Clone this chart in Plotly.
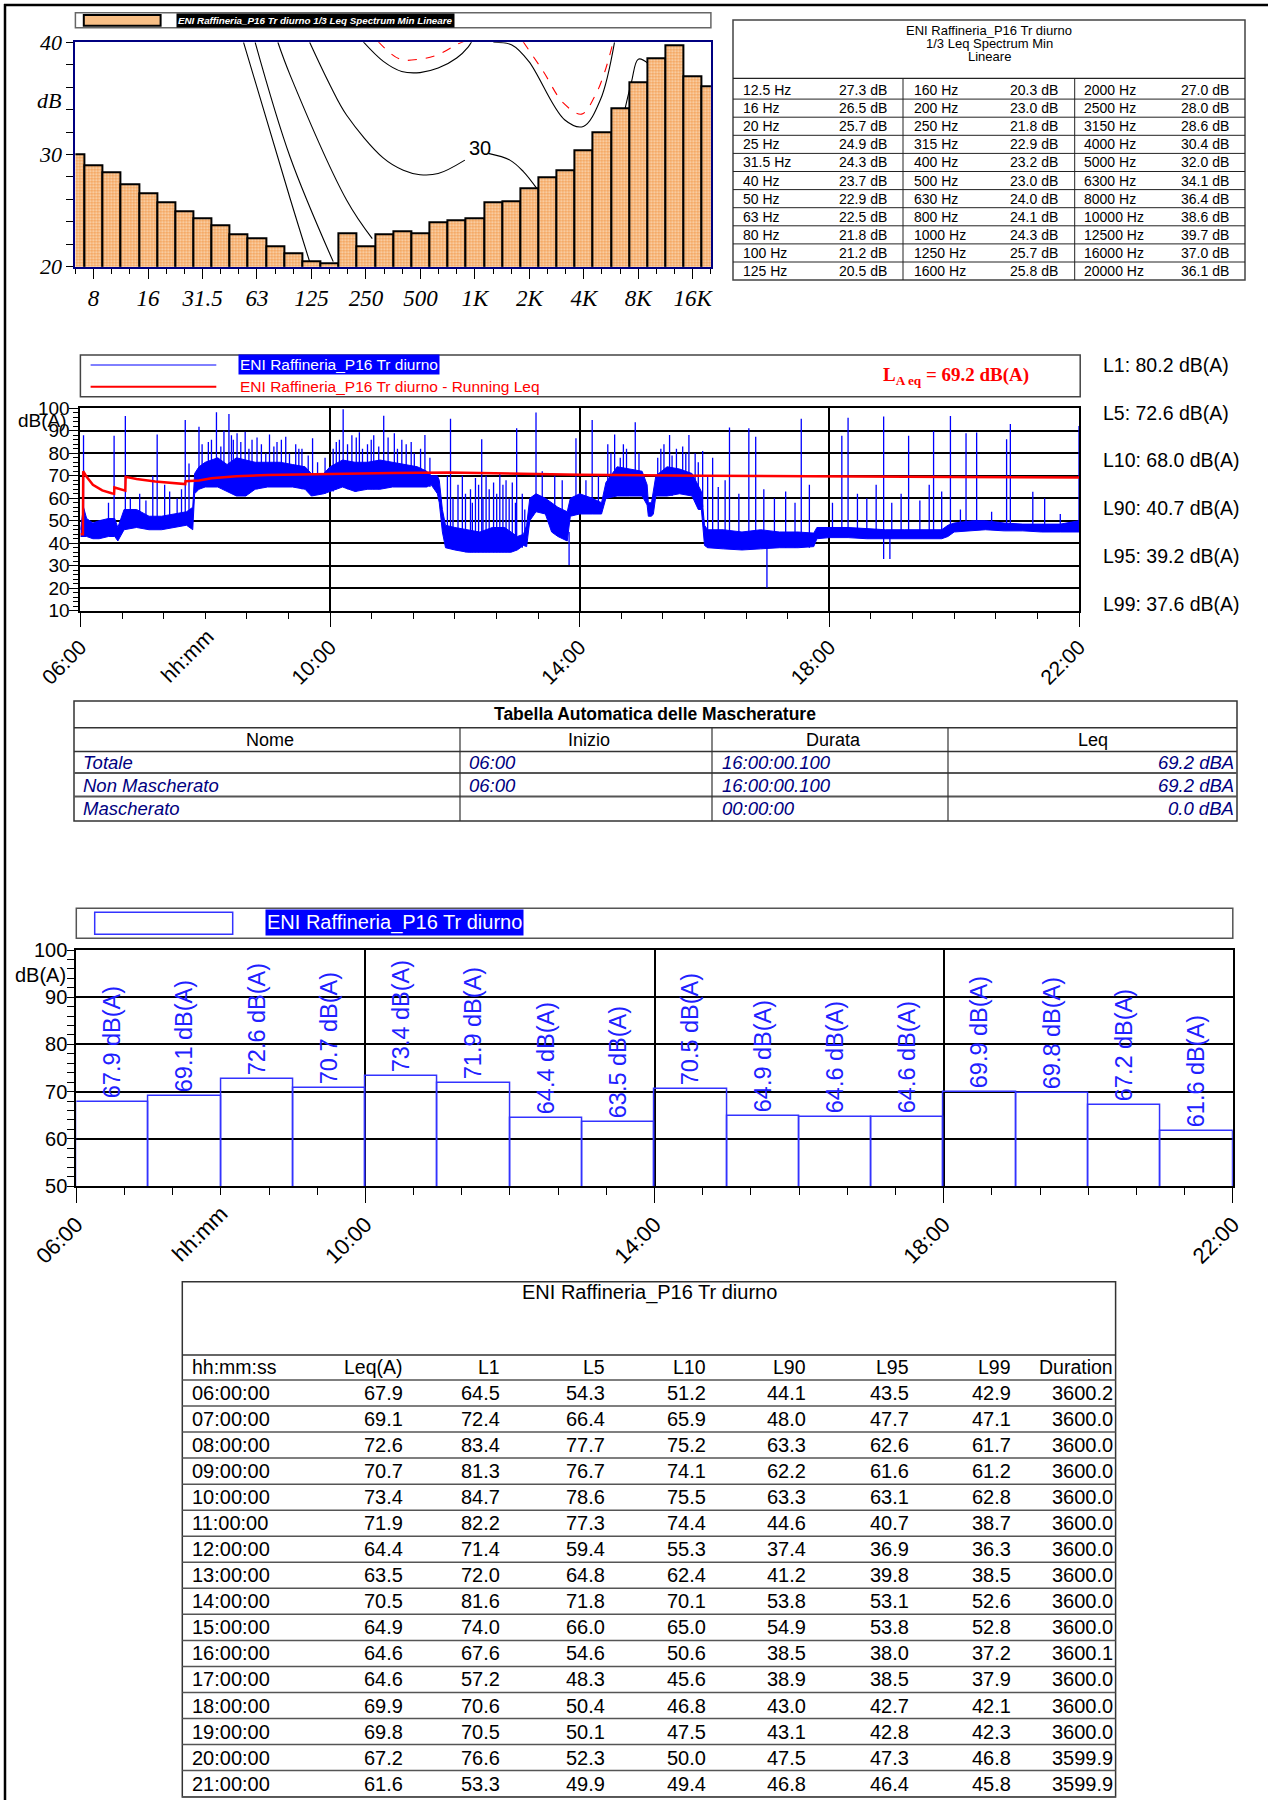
import plotly.graph_objects as go

W, H = 1273, 1800
def PX(x): return x / W
def PY(y): return 1 - y / H

SANS = "Liberation Sans, Arial, sans-serif"
SERIF = "Liberation Serif, Times New Roman, serif"
BLUE = "#0000FF"
RED = "#FF0000"
NAVY = "#000080"

# ---------------- DATA ----------------
# 1/3 octave Leq spectrum (min), linear
SPEC_FREQ = ["6.3", "8", "10", "12.5", "16", "20", "25", "31.5", "40", "50", "63", "80", "100", "125",
             "160", "200", "250", "315", "400", "500", "630", "800", "1000", "1250", "1600", "2000",
             "2500", "3150", "4000", "5000", "6300", "8000", "10000", "12500", "16000", "20000"]
SPEC_DB = [30.0, 29.0, 28.4, 27.3, 26.5, 25.7, 24.9, 24.3, 23.7, 22.9, 22.5, 21.8, 21.2, 20.5,
           20.3, 23.0, 21.8, 22.9, 23.2, 23.0, 24.0, 24.1, 24.3, 25.7, 25.8, 27.0,
           28.0, 28.6, 30.4, 32.0, 34.1, 36.4, 38.6, 39.7, 37.0, 36.1]
SPEC_TICK_FREQ = ["8", "16", "31.5", "63", "125", "250", "500", "1000", "2000", "4000", "8000", "16000"]
SPEC_TICK_TEXT = ["8", "16", "31.5", "63", "125", "250", "500", "1K", "2K", "4K", "8K", "16K"]

# equal-loudness style reference curves (band index, dB)
CURVE_A_X = [9.26, 11.82, 12.90]
CURVE_A_Y = [40.0, 26.1, 20.45]
CURVE_B_X = [9.90, 11.82, 14.20]
CURVE_B_Y = [40.0, 29.8, 20.45]
CURVE_C_X = [11.15, 11.82, 14.95, 16.35]
CURVE_C_Y = [40.0, 37.1, 25.9, 22.5]
CURVE_30L_X = [12.90, 14.02, 14.94, 16.95, 18.06, 18.98, 19.98, 21.45]
CURVE_30L_Y = [40.0, 36.2, 33.5, 29.7, 28.6, 28.2, 28.3, 29.5]
CURVE_30R_X = [22.74, 23.93, 24.66, 25.40]
CURVE_30R_Y = [30.1, 29.5, 28.5, 27.0]
CURVE_40L_X = [15.85, 16.96, 17.97, 18.98, 19.98, 21.0, 21.64, 21.82]
CURVE_40L_Y = [40.05, 38.3, 37.4, 37.3, 37.7, 38.6, 39.6, 40.05]
CURVE_40R_X = [23.02, 24.04, 24.97, 26.94, 27.97, 28.92, 29.69]
CURVE_40R_Y = [40.0, 39.76, 38.3, 33.1, 32.5, 34.9, 40.0]
CURVE_HI_X = [30.26, 30.63, 31.0, 31.55, 32.19]
CURVE_HI_Y = [34.0, 36.5, 38.5, 38.1, 36.6]
RED_L_X = [16.68, 17.87, 18.98, 19.98, 21.0, 21.36]
RED_L_Y = [40.05, 38.5, 38.5, 38.9, 39.8, 40.05]
RED_R_X = [24.66, 25.77, 26.87, 27.88, 28.61, 29.16, 29.62]
RED_R_Y = [40.05, 37.4, 34.6, 33.6, 35.2, 37.4, 40.05]

# time history (hours of day) - envelope of the dense level trace
BAND_T = [6.00, 6.05, 6.10, 6.20, 6.30, 6.45, 6.55, 6.60, 6.70, 6.90, 7.10, 7.30, 7.50, 7.70, 7.80,
          7.83, 7.90, 8.00, 8.20, 8.35, 8.50, 8.65, 8.80, 9.00, 9.20, 9.40, 9.60, 9.70, 9.90,
          10.00, 10.20, 10.40, 10.60, 10.80, 11.00, 11.20, 11.40, 11.55, 11.62, 11.72, 11.75,
          11.80, 11.85, 12.00, 12.20, 12.40, 12.60, 12.80, 12.90, 13.00, 13.10, 13.15, 13.20,
          13.30, 13.45, 13.55, 13.65, 13.80, 13.85, 14.00, 14.20, 14.35, 14.42, 14.60, 14.80,
          15.00, 15.08, 15.10, 15.15, 15.18, 15.22, 15.40, 15.60, 15.80, 15.90, 15.95, 16.00,
          16.05, 16.30, 16.60, 16.90, 17.20, 17.50, 17.75, 17.80, 18.00, 18.30, 18.60, 18.90,
          19.20, 19.50, 19.80, 19.90, 20.00, 20.30, 20.50, 20.80, 21.10, 21.40, 21.70, 22.00]
BAND_LO = [43, 43, 43, 42, 42, 43, 43, 41, 46, 47, 46, 46, 47, 48, 46,
           62, 64, 65, 65, 63, 61, 61, 64, 65, 65, 65, 64, 61, 62,
           63, 65, 63, 64, 64, 65, 65, 65, 65, 66, 62, 58,
           45, 38, 37, 36, 36, 36, 36, 36, 37, 39, 38.5, 50,
           54, 53, 45, 43, 41, 52, 53, 53, 53, 60, 61, 61,
           61, 57, 52, 52, 53, 61, 61, 62, 61, 55, 55, 39,
           38, 37.5, 37, 37.5, 38, 38, 38.5, 42, 42.5, 42.5, 42, 42,
           42, 42, 42, 43, 45, 45.5, 46, 45.5, 45.5, 45, 45, 45]
BAND_HI = [46, 56, 51, 49, 50, 51, 51, 47, 55, 55, 52, 52, 53, 54, 56,
           71, 74, 76, 78, 75, 78, 77, 76, 76, 76, 75, 74, 71, 71,
           74, 77, 76, 76, 77, 76, 75, 74, 72, 70, 70, 68,
           55, 48, 47, 46, 45, 47, 47, 45, 43, 44, 48, 60,
           62, 60, 58, 56, 54, 60, 62, 60, 58, 67, 74, 73,
           72, 66, 58, 58, 64, 70, 74, 73, 71, 66, 63, 48,
           46, 46, 45, 46, 45, 45, 44.5, 47, 47, 47, 46.5, 46,
           46, 46, 46, 48, 49, 50, 50, 49, 48.5, 48.5, 48.5, 50]

# isolated events (time, level at foot, peak level)
SPIKE_T = [6.05, 6.54, 6.72, 7.16, 7.23, 7.43, 7.68, 7.74, 7.90, 8.05, 8.18, 8.38, 8.51, 8.64, 9.03,
           9.29, 9.72, 10.21, 10.47, 10.86, 11.03, 11.52, 11.93, 12.43, 12.99, 13.30, 13.94, 14.20,
           14.56, 14.89, 15.44, 15.75, 15.97, 16.13, 16.40, 16.71, 16.82, 17.55, 18.20, 18.30,
           18.87, 19.27, 19.67, 19.94, 20.19, 20.36, 20.84, 20.90, 21.26, 21.45, 22.00,
           6.45, 6.80, 6.95, 7.05, 7.35, 7.55, 7.62, 8.30, 8.45, 8.75, 8.90, 9.15, 9.45, 9.55,
           10.10, 10.35, 10.60, 10.70, 11.15, 11.30, 11.45, 11.88, 12.05, 12.12, 12.25, 12.33,
           12.50, 12.62, 12.72, 12.82, 12.92, 13.08, 13.40, 13.60, 13.72, 14.10, 14.30, 14.45,
           14.70, 15.30, 15.55, 15.85, 16.05, 16.22, 16.33, 16.55, 16.95, 17.12, 17.30, 17.45,
           17.68, 18.05, 18.45, 18.60, 18.75, 19.00, 19.15, 19.45, 19.60, 19.80, 20.10, 20.60,
           21.70, 13.83, 17.00, 18.87, 18.97,
           7.95, 8.10, 8.25, 8.42, 8.57, 8.70, 8.83, 8.97, 9.10, 9.22, 9.35, 9.50, 9.65, 9.80,
           9.92, 10.05, 10.15, 10.28, 10.42, 10.52, 10.66, 10.78, 10.93, 11.08, 11.22, 11.35, 11.60,
           11.97, 12.17, 12.28, 12.38, 12.45, 12.55, 12.67, 12.77, 12.87, 12.97, 13.12,
           14.50, 14.65, 14.75, 14.95, 15.25, 15.35, 15.48, 15.65, 15.70, 15.90]
SPIKE_BASE = [45, 48, 50, 50, 50, 50, 50, 50, 66, 66, 66, 64, 62, 62, 66,
              66, 62, 65, 64, 65, 65, 66, 38, 37, 38, 55, 54, 54,
              62, 62, 62, 62, 56, 38, 38, 38, 38, 38, 43, 43,
              43, 43, 43, 44, 46, 46, 46, 46, 46, 46, 46,
              45, 48, 48, 48, 48, 48, 48, 65, 62, 64, 65, 65, 65, 64,
              64, 64, 64, 64, 65, 65, 65, 38, 37, 37, 36, 36,
              36, 36, 36, 36, 37, 38, 54, 45, 43, 54, 54, 60,
              61, 61, 62, 61, 38, 38, 38, 38, 38, 38, 38, 38,
              38, 43, 43, 43, 43, 43, 43, 43, 43, 43, 46, 46,
              46, 45, 38, 43, 43,
              66, 66, 66, 64, 62, 62, 64, 65, 65, 65, 65, 65, 64, 62,
              62, 63, 65, 64, 63, 64, 64, 64, 65, 65, 65, 65, 65,
              37, 36, 36, 36, 36, 36, 36, 36, 36, 37, 39,
              61, 61, 61, 61, 61, 61, 61, 62, 62, 61]
SPIKE_PEAK = [88.0, 87.8, 96.6, 70.0, 88.4, 63.0, 94.8, 75.5, 91.8, 85.0, 98.2, 97.5, 88.9, 89.6, 88.4,
              87.4, 86.7, 99.6, 89.3, 96.7, 88.9, 88.1, 95.3, 86.2, 91.1, 98.1, 86.7, 94.8,
              88.4, 93.8, 88.1, 88.1, 81.0, 78.0, 91.5, 91.1, 87.4, 95.3, 87.8, 95.8,
              96.3, 87.8, 89.9, 96.6, 88.9, 89.2, 86.2, 93.0, 62.9, 60.0, 92.1,
              58, 60, 62, 59, 66, 60, 64, 90, 86, 86, 84, 85, 84, 82,
              85, 88, 84, 88, 86, 85, 82, 70, 66, 70, 64, 69,
              70, 67, 71, 68, 67, 62, 72, 70, 68, 68, 70, 84,
              84, 82, 82, 80, 70, 65, 68, 62, 64, 60, 63, 58,
              66, 58, 62, 60, 66, 58, 62, 59, 66, 63, 55, 54,
              53, 30.3, 20.2, 33.0, 33.0,
              84, 86, 83, 88, 85, 82, 87, 80, 83, 86, 80, 82, 79, 76,
              78, 82, 86, 84, 87, 82, 86, 83, 87, 82, 84, 80, 78,
              60, 62, 58, 66, 60, 64, 62, 66, 60, 58, 55,
              80, 78, 82, 80, 78, 84, 79, 83, 80, 76]

# running Leq
RUN_T = [6.00, 6.04, 6.045, 6.10, 6.20, 6.35, 6.50, 6.54, 6.545, 6.70, 6.72, 6.725, 6.90, 7.20,
         7.50, 7.68, 7.685, 7.90, 8.10, 8.50, 9.00, 10.00, 11.00, 11.90, 13.00, 14.00, 16.00,
         18.00, 20.00, 22.00]
RUN_DB = [44.0, 44.0, 72.0, 69.5, 66.0, 63.5, 62.2, 62.0, 64.8, 63.6, 63.4, 69.5, 68.6, 67.5,
          66.8, 66.3, 67.6, 67.9, 68.9, 69.8, 70.3, 70.6, 71.2, 71.5, 71.0, 70.5, 70.0,
          69.6, 69.4, 69.2]

STAT_NAMES = ["L1", "L5", "L10", "L90", "L95", "L99"]
STAT_VALS = [80.2, 72.6, 68.0, 40.7, 39.2, 37.6]
LAEQ_TOTAL = 69.2

MASK_NAMES = ["Totale", "Non Mascherato", "Mascherato"]
MASK_START = ["06:00", "06:00", ""]
MASK_DUR = ["16:00:00.100", "16:00:00.100", "00:00:00"]
MASK_LEQ = [69.2, 69.2, 0.0]

HOUR_LABELS = ["06:00:00", "07:00:00", "08:00:00", "09:00:00", "10:00:00", "11:00:00", "12:00:00",
               "13:00:00", "14:00:00", "15:00:00", "16:00:00", "17:00:00", "18:00:00", "19:00:00",
               "20:00:00", "21:00:00"]
H_LEQ = [67.9, 69.1, 72.6, 70.7, 73.4, 71.9, 64.4, 63.5, 70.5, 64.9, 64.6, 64.6, 69.9, 69.8, 67.2, 61.6]
H_L1 = [64.5, 72.4, 83.4, 81.3, 84.7, 82.2, 71.4, 72.0, 81.6, 74.0, 67.6, 57.2, 70.6, 70.5, 76.6, 53.3]
H_L5 = [54.3, 66.4, 77.7, 76.7, 78.6, 77.3, 59.4, 64.8, 71.8, 66.0, 54.6, 48.3, 50.4, 50.1, 52.3, 49.9]
H_L10 = [51.2, 65.9, 75.2, 74.1, 75.5, 74.4, 55.3, 62.4, 70.1, 65.0, 50.6, 45.6, 46.8, 47.5, 50.0, 49.4]
H_L90 = [44.1, 48.0, 63.3, 62.2, 63.3, 44.6, 37.4, 41.2, 53.8, 54.9, 38.5, 38.9, 43.0, 43.1, 47.5, 46.8]
H_L95 = [43.5, 47.7, 62.6, 61.6, 63.1, 40.7, 36.9, 39.8, 53.1, 53.8, 38.0, 38.5, 42.7, 42.8, 47.3, 46.4]
H_L99 = [42.9, 47.1, 61.7, 61.2, 62.8, 38.7, 36.3, 38.5, 52.6, 52.8, 37.2, 37.9, 42.1, 42.3, 46.8, 45.8]
H_DUR = [3600.2, 3600.0, 3600.0, 3600.0, 3600.0, 3600.0, 3600.0, 3600.0, 3600.0, 3600.0, 3600.1,
         3600.0, 3600.0, 3600.0, 3599.9, 3599.9]
TABLE_HEAD = ["hh:mm:ss", "Leq(A)", "L1", "L5", "L10", "L90", "L95", "L99", "Duration"]

TIME_TICKS = [6, 10, 14, 18, 22]
TIME_TICK_TEXT = ["06:00", "10:00", "14:00", "18:00", "22:00"]

# ---------------- FIGURE ----------------
fig = go.Figure()
ann, shp = [], []

def text(x, y, s, size, family=SANS, color="black", xanchor="left", yanchor="middle", style=None,
         weight=None, **kw):
    font = dict(family=family, size=size, color=color)
    if style:
        font["style"] = style
    if weight:
        font["weight"] = weight
    ann.append(dict(xref="paper", yref="paper", x=PX(x), y=PY(y), text=s, showarrow=False,
                    xanchor=xanchor, yanchor=yanchor, font=font, **kw))

def line(x0, y0, x1, y1, color="black", width=1):
    shp.append(dict(type="line", xref="paper", yref="paper", x0=PX(x0), y0=PY(y0), x1=PX(x1),
                    y1=PY(y1), line=dict(color=color, width=width)))

def rect(x0, y0, x1, y1, color="black", width=1, fill="rgba(0,0,0,0)"):
    shp.append(dict(type="rect", xref="paper", yref="paper", x0=PX(x0), y0=PY(y0), x1=PX(x1),
                    y1=PY(y1), line=dict(color=color, width=width), fillcolor=fill))

# page frame
line(4, 5, 1268, 5, width=2.5)
line(5, 4, 5, 1800, width=2.5)

# ===== Spectrum chart =====
curves = [(CURVE_A_X, CURVE_A_Y, "black", "solid"), (CURVE_B_X, CURVE_B_Y, "black", "solid"),
          (CURVE_C_X, CURVE_C_Y, "black", "solid"), (CURVE_30L_X, CURVE_30L_Y, "black", "solid"),
          (CURVE_30R_X, CURVE_30R_Y, "black", "solid"), (CURVE_40L_X, CURVE_40L_Y, "black", "solid"),
          (CURVE_40R_X, CURVE_40R_Y, "black", "solid"), (CURVE_HI_X, CURVE_HI_Y, "black", "solid"),
          (RED_L_X, RED_L_Y, RED, "dash"), (RED_R_X, RED_R_Y, RED, "dash")]
for cx, cy, col, dsh in curves:
    fig.add_trace(go.Scatter(x=cx, y=cy, mode="lines", xaxis="x", yaxis="y",
                             line=dict(color=col, width=1.1, dash=dsh, shape="spline"),
                             hoverinfo="skip", showlegend=False))
band_idx = list(range(len(SPEC_FREQ)))
fig.add_trace(go.Bar(x=band_idx, y=SPEC_DB, width=1, xaxis="x2", yaxis="y2",
                     marker=dict(color="#F4A35C", line=dict(color="black", width=2),
                                 pattern=dict(shape=".", fgcolor="#F39B4E", bgcolor="#FCDDBC",
                                              size=3, solidity=0.5)),
                     hoverinfo="skip", showlegend=False))
ann.append(dict(xref="x", yref="y", x=22.3, y=30.6, text="30", showarrow=False,
                font=dict(family=SANS, size=20, color="black")))

rect(75.4, 12.7, 710.9, 27.7, color="#666666", width=1.5)
rect(83.8, 15, 160.6, 25.7, color="black", width=2, fill="#F8BF86")
text(176, 20.2, "ENI Raffineria_P16 Tr diurno 1/3 Leq Spectrum Min Lineare", 9.8,
     color="white", style="italic", weight="bold", bgcolor="black", borderpad=1)
text(49, 100, "dB", 22, family=SERIF, xanchor="center", style="italic")

# spectrum table
rect(733, 20, 1245, 280, color="#444444", width=1.5)
text(989, 30, "ENI Raffineria_P16 Tr diurno", 13, xanchor="center")
text(989, 43.5, "1/3 Leq Spectrum Min", 13, xanchor="center")
text(989, 57, "Lineare", 13, xanchor="center")
line(733, 78.3, 1245, 78.3, color="#222222", width=1.2)
ROW0, ROWH = 81.0, 18.1
for k in range(1, 11):
    line(733, ROW0 + ROWH * k, 1245, ROW0 + ROWH * k, color="#222222", width=1)
for vx in (903, 1074.7):
    line(vx, 78.3, vx, 280, color="#222222", width=1)
tab_f = SPEC_FREQ[3:]
tab_v = SPEC_DB[3:]
col_l = [740.7, 912, 1082]
col_r = [889, 1060, 1231]
for i, (f, v) in enumerate(zip(tab_f, tab_v)):
    c, r = divmod(i, 11)
    yy = ROW0 + ROWH * (r + 0.5)
    text(col_l[c], yy, f + " Hz", 14)
    text(col_r[c], yy, f"{v:.1f} dB", 14, xanchor="right")

# ===== Time history =====
fig.add_trace(go.Scatter(x=BAND_T + BAND_T[::-1], y=BAND_HI + BAND_LO[::-1], mode="lines",
                         fill="toself", fillcolor=BLUE, line=dict(color=BLUE, width=1),
                         xaxis="x3", yaxis="y3", hoverinfo="skip", showlegend=False))
sx, sy = [], []
for t, b, p in zip(SPIKE_T, SPIKE_BASE, SPIKE_PEAK):
    sx += [t, t, None]
    sy += [b, p, None]
fig.add_trace(go.Scatter(x=sx, y=sy, mode="lines", line=dict(color=BLUE, width=1.3),
                         xaxis="x3", yaxis="y3", hoverinfo="skip", showlegend=False))
fig.add_trace(go.Scatter(x=RUN_T, y=RUN_DB, mode="lines", line=dict(color=RED, width=2.5),
                         xaxis="x3", yaxis="y3", hoverinfo="skip", showlegend=False))

rect(80.4, 355, 1080.2, 396.7, color="#444444", width=1.5)
line(90.6, 365, 216.3, 365, color=BLUE, width=1)
line(90.6, 386.7, 216.3, 386.7, color=RED, width=2)
text(237.6, 365, "ENI Raffineria_P16 Tr diurno", 15.5, color="white", bgcolor=BLUE, borderpad=1)
text(237.6, 387, "ENI Raffineria_P16 Tr diurno - Running Leq", 15.5, color=RED)
text(881, 376, f"L<sub>A eq</sub> = {LAEQ_TOTAL:.1f} dB(A)", 19, family=SERIF, color=RED, weight="bold")
stat_y0, stat_dy = 365, 47.7
for i, (n, v) in enumerate(zip(STAT_NAMES, STAT_VALS)):
    text(1100.8, stat_y0 + stat_dy * i, f"{n}: {v:.1f} dB(A)", 19.5)
text(42, 420, "dB(A)", 19, xanchor="center")
ann.append(dict(xref="x3", yref="paper", x=8.25, y=PY(622), text="hh:mm", showarrow=False,
                textangle=-45, xanchor="right", yanchor="top",
                font=dict(family=SANS, size=21, color="black")))

# ===== Mascherature table =====
MX0, MX1 = 74, 1237
rect(MX0, 701, MX1, 821, color="#333333", width=1.5)
text(655, 714.3, "Tabella Automatica delle Mascherature", 17.5, weight="bold", xanchor="center")
line(MX0, 727.7, MX1, 727.7, color="#333333", width=1.5)
line(MX0, 751.5, MX1, 751.5, color="#333333", width=1.5)
line(MX0, 773, MX1, 773, color="#555555", width=2)
line(MX0, 796.5, MX1, 796.5, color="#555555", width=2)
for vx in (460, 712, 948):
    line(vx, 727.7, vx, 821, color="#333333", width=1.2)
for cx, h in zip((270, 589, 833, 1093), ("Nome", "Inizio", "Durata", "Leq")):
    text(cx, 740, h, 18, xanchor="center")
for i, (n, s, d, l) in enumerate(zip(MASK_NAMES, MASK_START, MASK_DUR, MASK_LEQ)):
    yy = [762, 785, 808.5][i]
    text(81, yy, n, 18.5, color=NAVY, style="italic")
    if s:
        text(467, yy, s, 18.5, color=NAVY, style="italic")
    text(720, yy, d, 18.5, color=NAVY, style="italic")
    text(1236, yy, f"{l:.1f} dBA", 18.5, color=NAVY, style="italic", xanchor="right")

# ===== Hourly bar chart =====
hour_start = [int(h[:2]) for h in HOUR_LABELS]
fig.add_trace(go.Bar(x=[h + 0.5 for h in hour_start], y=H_LEQ, width=1, xaxis="x4", yaxis="y4",
                     marker=dict(color="rgba(255,255,255,0)", line=dict(color="#3333FF", width=1.5)),
                     text=[f"{v:.1f} dB(A)" for v in H_LEQ], textposition="outside", textangle=-90,
                     constraintext="none", cliponaxis=False,
                     textfont=dict(family=SANS, size=23.5, color="#2020FF"),
                     hoverinfo="skip", showlegend=False))
rect(76.3, 908.3, 1232.8, 938.3, color="#555555", width=1.5)
rect(94.7, 912.3, 232.7, 934.3, color="#3333FF", width=1.5, fill="white")
text(265.3, 922, "ENI Raffineria_P16 Tr diurno", 20, color="white", bgcolor=BLUE, borderpad=1)
text(40, 975, "dB(A)", 20, xanchor="center")
ann.append(dict(xref="x4", yref="paper", x=8.2, y=PY(1198), text="hh:mm", showarrow=False,
                textangle=-45, xanchor="right", yanchor="top",
                font=dict(family=SANS, size=22, color="black")))

# ===== Hourly table =====
rect(182.3, 1281.7, 1115.6, 1797, color="#333333", width=1.5)
text(649, 1292.3, "ENI Raffineria_P16 Tr diurno", 20, xanchor="center")
line(182.3, 1355, 1115.6, 1355, color="#333333", width=1.5)
col_right = [405.3, 502.3, 606.5, 708.3, 808.3, 911.4, 1012.6, 1114.5]
text(190, 1367, TABLE_HEAD[0], 19.5)
for cx, h in zip(col_right, TABLE_HEAD[1:]):
    text(cx, 1367, h, 19.5, xanchor="right")
TR0, TRH = 1380.0, 26.04
for k in range(0, 17):
    line(182.3, TR0 + TRH * k, 1115.6, TR0 + TRH * k, color="#555555", width=1.5)
cols = [H_LEQ, H_L1, H_L5, H_L10, H_L90, H_L95, H_L99, H_DUR]
for i, lab in enumerate(HOUR_LABELS):
    yy = TR0 + TRH * (i + 0.5)
    text(190, yy, lab, 20)
    for cx, col in zip(col_right, cols):
        text(cx, yy, f"{col[i]:.1f}", 20, xanchor="right")

# ---------------- AXES ----------------
tick_common = dict(ticks="outside", tickcolor="black", tickwidth=1, automargin=False, zeroline=False)
layout_axes = dict(
    xaxis=dict(domain=[PX(75.4), PX(710.9)], range=[0, 35], anchor="y", tickmode="array",
               tickvals=[SPEC_FREQ.index(f) for f in SPEC_TICK_FREQ], ticktext=SPEC_TICK_TEXT,
               ticklen=10, minor=dict(tick0=0, dtick=1, ticks="outside", ticklen=5, tickcolor="black"),
               showline=True, mirror=True, linecolor=NAVY, linewidth=2, showgrid=False,
               tickfont=dict(family=SERIF, size=23, color="black", style="italic"), **tick_common),
    yaxis=dict(domain=[PY(266.7), PY(42.3)], range=[20, 40], anchor="x", tickmode="array",
               tickvals=[20, 30, 40], ticklen=7,
               minor=dict(tick0=0, dtick=2, ticks="outside", ticklen=7, tickcolor="black"),
               showline=True, mirror=True, linecolor=NAVY, linewidth=2, showgrid=False,
               tickfont=dict(family=SERIF, size=22, color="black", style="italic"), **tick_common),
    xaxis2=dict(domain=[PX(75.4), PX(710.9)], range=[0, 35], overlaying="x", anchor="y2", visible=False),
    yaxis2=dict(domain=[PY(266.7), PY(42.3)], range=[20, 40], overlaying="y", anchor="x2", visible=False),
    xaxis3=dict(domain=[PX(80.4), PX(1079)], range=[6, 22], anchor="y3", tickmode="array",
                tickvals=TIME_TICKS, ticktext=TIME_TICK_TEXT, tickangle=-45, ticklen=14,
                minor=dict(tick0=6, dtick=2 / 3, ticks="outside", ticklen=6, tickcolor="black"),
                showgrid=True, gridcolor="black", gridwidth=1.5, showline=True, mirror=True,
                linecolor="black", linewidth=2,
                tickfont=dict(family=SANS, size=21, color="black"), **tick_common),
    yaxis3=dict(domain=[PY(610.7), PY(408.3)], range=[10, 100], anchor="x3", tickmode="array",
                tickvals=list(range(10, 101, 10)), ticklen=9, ticklabelstandoff=-4,
                minor=dict(tick0=0, dtick=2, ticks="outside", ticklen=5, tickcolor="black"),
                showgrid=True, gridcolor="black", gridwidth=2, showline=True, mirror=True,
                linecolor="black", linewidth=2,
                tickfont=dict(family=SANS, size=19, color="black"), **tick_common),
    xaxis4=dict(domain=[PX(76.3), PX(1232.8)], range=[6, 22], anchor="y4", tickmode="array",
                tickvals=TIME_TICKS, ticktext=TIME_TICK_TEXT, tickangle=-45, ticklen=15,
                minor=dict(tick0=6, dtick=2 / 3, ticks="outside", ticklen=7, tickcolor="black"),
                showgrid=True, gridcolor="black", gridwidth=1.5, showline=True, mirror=True,
                linecolor="black", linewidth=2,
                tickfont=dict(family=SANS, size=22, color="black"), **tick_common),
    yaxis4=dict(domain=[PY(1186), PY(950)], range=[50, 100], anchor="x4", tickmode="array",
                tickvals=list(range(50, 101, 10)), ticklen=7, ticklabelstandoff=-4,
                minor=dict(tick0=0, dtick=2, ticks="outside", ticklen=7, tickcolor="black"),
                showgrid=True, gridcolor="black", gridwidth=2, showline=True, mirror=True,
                linecolor="black", linewidth=2,
                tickfont=dict(family=SANS, size=20, color="black"), **tick_common),
)

fig.update_layout(template="none", width=W, height=H, autosize=False,
                  margin=dict(l=0, r=0, t=0, b=0, pad=0),
                  paper_bgcolor="white", plot_bgcolor="white", showlegend=False, hovermode=False,
                  bargap=0, annotations=ann, shapes=shp, **layout_axes)

fig.write_html("out.html", config={"displayModeBar": False},
               post_script="document.body.style.margin='0';")
